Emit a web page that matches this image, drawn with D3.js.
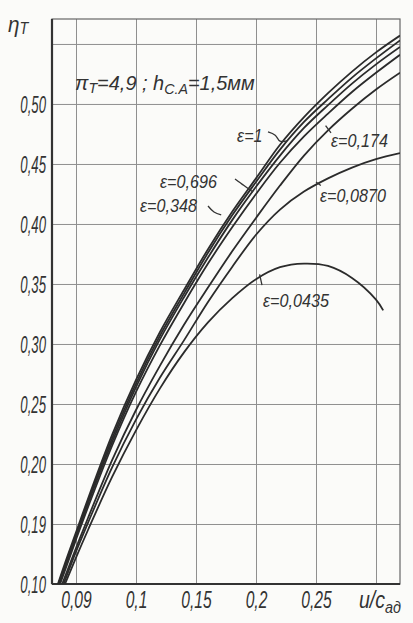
<!DOCTYPE html>
<html>
<head>
<meta charset="utf-8">
<script src="https://cdn.jsdelivr.net/npm/d3@7"></script>
<style>
  body { margin: 0; background: #fbfbf9; }
  svg { display: block; }
  text { font-family: "Liberation Sans", Arimo, sans-serif; font-style: italic; fill: #333; }
</style>
</head>
<body>
<div id="chart"></div>
<script>
// u/c_ad grid shared by most curves
var uc = [0.03, 0.04, 0.05, 0.06, 0.08, 0.10, 0.12, 0.14, 0.16, 0.18, 0.20, 0.22, 0.24, 0.26, 0.28, 0.30, 0.32];

// efficiency eta_T for each partial admission eps
var etaE1     = [0.085, 0.115, 0.143, 0.171, 0.224, 0.270, 0.310, 0.345, 0.379, 0.410, 0.438, 0.466, 0.489, 0.509, 0.527, 0.543, 0.557];
var etaE0696  = [0.084, 0.113, 0.141, 0.169, 0.221, 0.267, 0.307, 0.342, 0.376, 0.407, 0.435, 0.462, 0.485, 0.504, 0.522, 0.538, 0.553];
var etaE0348  = [0.083, 0.111, 0.139, 0.167, 0.218, 0.264, 0.304, 0.339, 0.372, 0.403, 0.431, 0.457, 0.480, 0.499, 0.517, 0.533, 0.5475];
var etaExtra  = [0.082, 0.109, 0.137, 0.164, 0.215, 0.260, 0.299, 0.334, 0.367, 0.397, 0.425, 0.451, 0.473, 0.492, 0.510, 0.526, 0.541];
var etaE0174  = [0.077, 0.104, 0.130, 0.155, 0.203, 0.245, 0.282, 0.316, 0.347, 0.377, 0.405, 0.432, 0.457, 0.478, 0.496, 0.512, 0.526];
var etaE0087  = [0.075, 0.101, 0.127, 0.151, 0.197, 0.237, 0.272, 0.303, 0.335, 0.364, 0.391, 0.412, 0.427, 0.438, 0.447, 0.454, 0.459];

// the eps=0.0435 curve stops short of the right edge
var ucLow     = [0.03, 0.04, 0.05, 0.06, 0.08, 0.10, 0.12, 0.14, 0.16, 0.18, 0.20, 0.22, 0.24, 0.26, 0.28, 0.30, 0.306];
var etaE00435 = [0.073, 0.098, 0.122, 0.145, 0.189, 0.228, 0.263, 0.293, 0.318, 0.338, 0.354, 0.364, 0.367, 0.365, 0.355, 0.337, 0.328];

// axis ticks (labels as printed in the source, including its oddities)
var yTicks = [0.10, 0.15, 0.20, 0.25, 0.30, 0.35, 0.40, 0.45, 0.50];
var yTickLabels = ["0,10", "0,19", "0,20", "0,25", "0,30", "0,35", "0,40", "0,45", "0,50"];
var yGrid = [0.15, 0.20, 0.25, 0.30, 0.35, 0.40, 0.45, 0.50, 0.55];
var xTicks = [0.05, 0.10, 0.15, 0.20, 0.25];
var xTickLabels = ["0,09", "0,1", "0,15", "0,2", "0,25"];
var xGrid = [0.05, 0.10, 0.15, 0.20, 0.25, 0.30];

var curves = [
  { x: uc, y: etaE1 },
  { x: uc, y: etaE0696 },
  { x: uc, y: etaE0348 },
  { x: uc, y: etaExtra },
  { x: uc, y: etaE0174 },
  { x: uc, y: etaE0087 },
  { x: ucLow, y: etaE00435 }
];

// curve labels, placed in data units, with a small leader stroke
var notes = [
  { t: "ε=1",      x: 0.1842, y: 0.4683, lead: [[0.2100, 0.4767], [0.2160, 0.4740], [0.2200, 0.4690], [0.2258, 0.4692]] },
  { t: "ε=0,696",  x: 0.1200, y: 0.4300, lead: [[0.1825, 0.4375], [0.1900, 0.4320], [0.1975, 0.4267]] },
  { t: "ε=0,348",  x: 0.1033, y: 0.4100, lead: [[0.1600, 0.4150], [0.1650, 0.4100], [0.1710, 0.4075]] },
  { t: "ε=0,174",  x: 0.2625, y: 0.4642, lead: [[0.2625, 0.4760], [0.2580, 0.4820]] },
  { t: "ε=0,0870", x: 0.2533, y: 0.4183, lead: [[0.2540, 0.4320], [0.2500, 0.4350]] },
  { t: "ε=0,0435", x: 0.2058, y: 0.3308, lead: [[0.2050, 0.3490], [0.2030, 0.3580]] }
];

var width = 413, height = 623;
var margin = { top: 19, right: 13, bottom: 39, left: 52 };

var x = d3.scaleLinear().domain([0.03, 0.32]).range([margin.left, width - margin.right]);
var y = d3.scaleLinear().domain([0.10, 0.5708]).range([height - margin.bottom, margin.top]);

var svg = d3.select("#chart").append("svg").attr("width", width).attr("height", height);

svg.append("defs").append("clipPath").attr("id", "plot")
  .append("rect").attr("x", margin.left).attr("y", margin.top)
  .attr("width", width - margin.left - margin.right).attr("height", height - margin.top - margin.bottom);

// grid lines
svg.append("g").attr("transform", "translate(" + margin.left + ",0)")
  .call(d3.axisLeft(y).tickValues(yGrid).tickSize(-(width - margin.left - margin.right)).tickFormat(""))
  .call(function(g) { g.select(".domain").remove(); })
  .selectAll("line").attr("stroke", "#8f8f8f").attr("stroke-width", 1);

svg.append("g").attr("transform", "translate(0," + (height - margin.bottom) + ")")
  .call(d3.axisBottom(x).tickValues(xGrid).tickSize(-(height - margin.top - margin.bottom)).tickFormat(""))
  .call(function(g) { g.select(".domain").remove(); })
  .selectAll("line").attr("stroke", "#8f8f8f").attr("stroke-width", 1);

// frame
svg.append("rect").attr("x", margin.left).attr("y", margin.top)
  .attr("width", width - margin.left - margin.right).attr("height", height - margin.top - margin.bottom)
  .attr("fill", "none").attr("stroke", "#666").attr("stroke-width", 1.2);
svg.append("line").attr("x1", margin.left).attr("x2", margin.left).attr("y1", margin.top).attr("y2", height - margin.bottom)
  .attr("stroke", "#333").attr("stroke-width", 2.2);
svg.append("line").attr("x1", margin.left).attr("x2", width - margin.right).attr("y1", height - margin.bottom).attr("y2", height - margin.bottom)
  .attr("stroke", "#333").attr("stroke-width", 2);

// y tick labels
var yAxis = svg.append("g").attr("transform", "translate(" + (margin.left - 6) + ",0)")
  .call(d3.axisLeft(y).tickValues(yTicks).tickSize(0).tickFormat(function(d, i) { return yTickLabels[i]; }));
yAxis.select(".domain").remove();
yAxis.selectAll("text")
  .attr("x", 0).attr("dy", "0.36em")
  .attr("font-size", 24).attr("font-family", null)
  .attr("transform", "scale(0.55,1)");

// x tick labels
var xAxis = svg.append("g").attr("transform", "translate(0," + (height - margin.bottom + 24) + ")")
  .call(d3.axisBottom(x).tickValues(xTicks).tickSize(0).tickFormat(function(d, i) { return xTickLabels[i]; }));
xAxis.select(".domain").remove();
xAxis.selectAll("text").attr("y", 0).attr("dy", 0)
  .attr("font-size", 23).attr("font-family", null)
  .attr("transform", "scale(0.68,1)");

// x axis title u/c_ad
var xt = svg.append("text")
  .attr("transform", "translate(" + (x(0.30) - 17) + "," + (height - margin.bottom + 24) + ") scale(0.85,1)")
  .attr("font-size", 23);
xt.append("tspan").text("u/c");
xt.append("tspan").attr("dy", 5).attr("font-size", 17).text("ад");

// y axis title eta_T
var yt = svg.append("text").attr("transform", "translate(8,32) scale(0.9,1)").attr("font-size", 23);
yt.append("tspan").text("η");
yt.append("tspan").attr("dy", 2).attr("font-size", 16).text("Т");

// parameters
var pt = svg.append("text")
  .attr("transform", "translate(" + x(0.0492) + "," + y(0.5117) + ") scale(0.95,1)")
  .attr("font-size", 21);
pt.append("tspan").text("π");
pt.append("tspan").attr("dy", 3).attr("font-size", 15).text("Т");
pt.append("tspan").attr("dy", -3).text("=4,9 ; h");
pt.append("tspan").attr("dy", 4).attr("font-size", 15).text("С.А");
pt.append("tspan").attr("dy", -4).text("=1,5мм");

// curves
var line = d3.line().curve(d3.curveCatmullRom.alpha(0.5))
  .x(function(d) { return x(d[0]); })
  .y(function(d) { return y(d[1]); });

svg.append("g").attr("clip-path", "url(#plot)")
  .selectAll("path").data(curves).enter().append("path")
  .attr("d", function(c) { return line(c.x.map(function(v, i) { return [v, c.y[i]]; })); })
  .attr("fill", "none").attr("stroke", "#2b2b2b").attr("stroke-width", 1.8);

// labels
var noteG = svg.append("g");
noteG.selectAll("path").data(notes).enter().append("path")
  .attr("d", function(n) { return d3.line().curve(d3.curveCatmullRom).x(function(d) { return x(d[0]); }).y(function(d) { return y(d[1]); })(n.lead); })
  .attr("fill", "none").attr("stroke", "#333").attr("stroke-width", 1.3);
noteG.selectAll("text").data(notes).enter().append("text")
  .attr("transform", function(n) { return "translate(" + x(n.x) + "," + y(n.y) + ") scale(0.85,1)"; })
  .attr("font-size", 19)
  .text(function(n) { return n.t; });
</script>
</body>
</html>
